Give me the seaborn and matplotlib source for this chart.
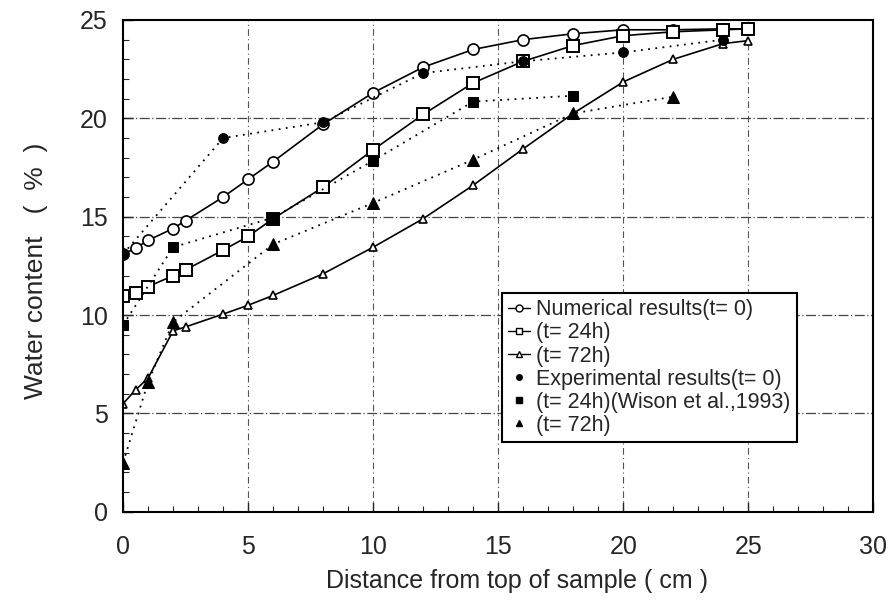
import seaborn as sns
import matplotlib.pyplot as plt
from matplotlib.lines import Line2D
from matplotlib.ticker import MultipleLocator

# numerical results (solid lines)
num_x = [0, 0.5, 1, 2, 2.5, 4, 5, 6, 8, 10, 12, 14, 16, 18, 20, 22, 24, 25]
num_t0 = [13.1, 13.4, 13.8, 14.4, 14.8, 16.0, 16.9, 17.8, 19.7, 21.3, 22.6,
          23.5, 24.0, 24.3, 24.5, 24.5, 24.55, 24.55]
num_t24 = [10.95, 11.1, 11.45, 12.0, 12.3, 13.3, 14.0, 14.9, 16.5, 18.4, 20.2,
           21.8, 22.9, 23.7, 24.2, 24.4, 24.5, 24.55]
num_t72 = [5.5, 6.2, 6.8, 9.2, 9.4, 10.05, 10.5, 11.0, 12.1, 13.45, 14.9,
           16.6, 18.45, 20.25, 21.85, 23.0, 23.8, 23.95]

# experimental results (dotted lines)
exp_t0_x = [0, 4, 8, 12, 16, 20, 24]
exp_t0 = [13.1, 19.0, 19.8, 22.3, 22.9, 23.35, 24.0]
exp_t24_x = [0, 2, 6, 10, 14, 18]
exp_t24 = [9.5, 13.45, 14.95, 17.85, 20.85, 21.15]
exp_t72_x = [0, 1, 2, 6, 10, 14, 18, 22]
exp_t72 = [2.5, 6.6, 9.65, 13.6, 15.7, 17.9, 20.25, 21.1]

labels = ["Numerical results(t= 0)", "(t= 24h)", "(t= 72h)",
          "Experimental results(t= 0)", "(t= 24h)(Wison et al.,1993)", "(t= 72h)"]

sns.set_style("ticks")
plt.rcParams['font.family'] = ['Liberation Sans', 'DejaVu Sans']

fig, ax = plt.subplots(figsize=(8.92, 6.05), dpi=100)
fig.subplots_adjust(left=0.138, right=0.979, top=0.967, bottom=0.154)

# gridlines first so the curves sit on top
for gx in [5, 10, 15, 20, 25]:
    ax.axvline(gx, color="#555555", lw=0.8, ls=(0, (6, 3, 1, 3)), zorder=0)
for gy in [5, 10, 15, 20]:
    ax.axhline(gy, color="#444444", lw=0.9, ls=(0, (8, 2, 1, 2)), zorder=0)

k = dict(color="black", lw=1.2)
sns.lineplot(x=num_x, y=num_t0, ax=ax, sort=False, marker="o", markersize=8,
             markerfacecolor="white", markeredgecolor="black", markeredgewidth=1.2, **k)
sns.lineplot(x=num_x, y=num_t24, ax=ax, sort=False, marker="s", markersize=8,
             markerfacecolor="white", markeredgecolor="black", markeredgewidth=1.4, **k)
sns.lineplot(x=num_x, y=num_t72, ax=ax, sort=False, marker="^", markersize=6,
             markerfacecolor="white", markeredgecolor="black", markeredgewidth=1.2, **k)

d = dict(color="black", lw=1.3, linestyle=(0, (1, 3)))
sns.lineplot(x=exp_t0_x, y=exp_t0, ax=ax, sort=False, marker="o", markersize=7,
             markeredgecolor="black", **d)
sns.lineplot(x=exp_t24_x, y=exp_t24, ax=ax, sort=False, marker="s", markersize=7,
             markeredgecolor="black", **d)
sns.lineplot(x=exp_t72_x, y=exp_t72, ax=ax, sort=False, marker="^", markersize=8,
             markeredgecolor="black", **d)

ax.set_xlim(0, 30)
ax.set_ylim(0, 25)
ax.xaxis.set_major_locator(MultipleLocator(5))
ax.yaxis.set_major_locator(MultipleLocator(5))
ax.xaxis.set_minor_locator(MultipleLocator(1))
ax.yaxis.set_minor_locator(MultipleLocator(1))
ax.tick_params(which="major", direction="in", length=7, width=1, labelsize=18)
ax.tick_params(axis="y", which="major", pad=11)
ax.tick_params(axis="x", which="major", pad=17)
ax.tick_params(which="minor", direction="in", length=4, width=0.8)
for s in ax.spines.values():
    s.set_linewidth(1.5)
    s.set_color("black")

ax.set_xlabel("Distance from top of sample ( cm )", fontsize=18)
ax.set_ylabel("Water content   (  %  )", fontsize=19)
ax.xaxis.set_label_coords(0.525, -0.116)
ax.yaxis.set_label_coords(-0.100, 0.49)

handles = [
    Line2D([], [], color="black", lw=1, marker="o", markersize=5, markerfacecolor="white"),
    Line2D([], [], color="black", lw=1, marker="s", markersize=4, markerfacecolor="white"),
    Line2D([], [], color="black", lw=1, marker="^", markersize=4, markerfacecolor="white"),
    Line2D([], [], color="black", lw=0, marker="o", markersize=4),
    Line2D([], [], color="black", lw=0, marker="s", markersize=4),
    Line2D([], [], color="black", lw=0, marker="^", markersize=4),
]
leg = ax.legend(handles, labels, loc="lower left", bbox_to_anchor=(0.505, 0.141),
                borderaxespad=0, fontsize=15.5, handlelength=1.0, handletextpad=0.3,
                labelspacing=0.1, borderpad=0.3, fancybox=False, framealpha=1,
                edgecolor="black")
leg.get_frame().set_linewidth(1.5)

plt.savefig("out.png", dpi=100)
